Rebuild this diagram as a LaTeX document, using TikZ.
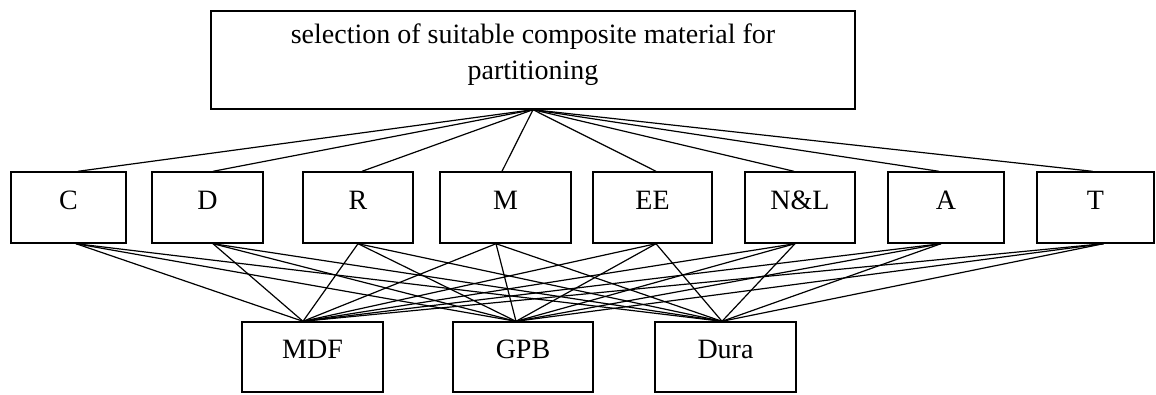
\documentclass[tikz,border=0pt]{standalone}
\usepackage{fontspec}
\setmainfont{Liberation Serif}
\begin{document}
\begin{tikzpicture}[x=1pt, y=-1pt,
    every node/.style={font=\fontsize{28}{36}\selectfont},
    box/.style={draw, line width=1.4pt, rectangle, inner sep=0pt},
    crit/.style={box, text height=37pt, text depth=34pt},
    alt/.style={box, text height=36pt, text depth=34pt},
    link/.style={line width=1.2pt}]
  \useasboundingbox (0,0) rectangle (1156,394);

  % goal
  \node[box, minimum width=644pt, text height=32pt, text depth=66pt] (goal) at (533,60)
    {\begin{tabular}[t]{@{}c@{}}selection of suitable composite material for\\partitioning\end{tabular}};

  % criteria
  \node[crit, minimum width=115pt] (C)    at (68.5,207.5) {C};
  \node[crit, minimum width=111pt] (D)    at (207.5,207.5) {D};
  \node[crit, minimum width=110pt] (R)    at (358,207.5) {R};
  \node[crit, minimum width=131pt] (M)    at (505.5,207.5) {M};
  \node[crit, minimum width=119pt] (EE)   at (652.5,207.5) {EE};
  \node[crit, minimum width=110pt] (NL)   at (800,207.5) {N\&L};
  \node[crit, minimum width=116pt] (A)    at (946,207.5) {A};
  \node[crit, minimum width=117pt] (T)    at (1095.5,207.5) {T};

  % alternatives
  \node[alt, minimum width=141pt] (MDF)  at (312.5,357) {MDF};
  \node[alt, minimum width=140pt] (GPB)  at (523,357) {GPB};
  \node[alt, minimum width=141pt] (Dura) at (725.5,357) {Dura};

  % goal -> criteria, criteria -> alternatives
  \foreach \n/\a/\b in {C/9.5/7.5, D/5.5/5.5, R/4/0, M/-3.5/-9.5, EE/3.5/3.5, NL/-6/-5, A/-7/-5, T/-3/8} {
    \draw[link] (goal.south) -- ([xshift=\a pt]\n.north);
    \foreach \m/\c in {MDF/-9.5, GPB/-7, Dura/-3.5}
      \draw[link] ([xshift=\b pt]\n.south) -- ([xshift=\c pt]\m.north);
  }
\end{tikzpicture}
\end{document}
